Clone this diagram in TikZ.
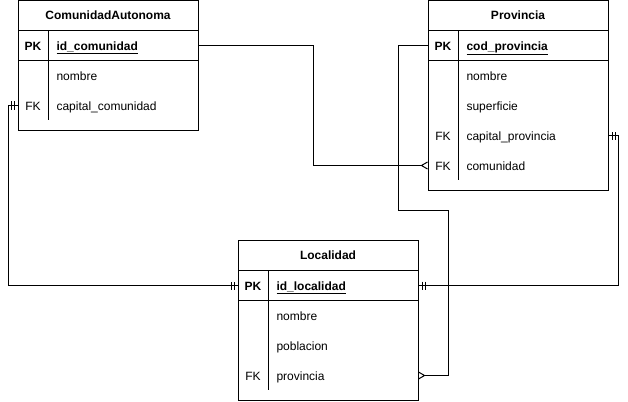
\documentclass[tikz,border=0pt]{standalone}
\usepackage{fontspec}
\setmainfont{Liberation Sans}
\usetikzlibrary{positioning,arrows.meta,decorations.markings}

\tikzset{
  caja/.style={draw, minimum width=180pt, inner sep=0pt, outer sep=0pt},
  titulo/.style={caja, minimum height=30pt, font=\bfseries},
  clave/.style={caja, minimum height=30pt},
  marca/.style={inner sep=0pt, anchor=base},
  campo/.style={inner sep=0pt, anchor=base west},
  muchos/.style={-{Straight Barb[reversed,length=6pt,width=7pt]}},
  unouno/.style={postaction={decorate, decoration={markings,
      mark=at position 4pt with {\draw (0,-4pt) -- (0,4pt);},
      mark=at position 7pt with {\draw (0,-4pt) -- (0,4pt);},
      mark=at position -4pt with {\draw (0,-4pt) -- (0,4pt);},
      mark=at position -7pt with {\draw (0,-4pt) -- (0,4pt);}}}}
}

\begin{document}
\fontsize{12}{14}\selectfont
\begin{tikzpicture}[x=1pt, y=-1pt, line width=1pt]
  \useasboundingbox (0,0) rectangle (628,401);

  % ComunidadAutonoma
  \node[titulo] (ca) at (108,15.5) {ComunidadAutonoma};
  \node[clave, below=0pt of ca] (ca-pk) {};
  \node[caja, minimum height=70pt, below=0pt of ca-pk] (ca-cuerpo) {};
  \draw (ca-pk.north west) ++(30,0) -- ++(0,89);
  \node[marca, font=\bfseries] (ca-pkl) at (33,50.5) {PK};
  \node[campo, font=\bfseries] (ca-id) at (56,50.5) {\underline{id\_comunidad}};
  \node[campo] (ca-nombre) at (56,80.5) {nombre};
  \node[marca] (ca-fk) at (33,110.5) {FK};
  \node[campo] (ca-capital) at (56,110.5) {capital\_comunidad};

  % Provincia
  \node[titulo] (pv) at (518,15.5) {Provincia};
  \node[clave, below=0pt of pv] (pv-pk) {};
  \node[caja, minimum height=130pt, below=0pt of pv-pk] (pv-cuerpo) {};
  \draw (pv-pk.north west) ++(30,0) -- ++(0,149);
  \node[marca, font=\bfseries] (pv-pkl) at (443,50.5) {PK};
  \node[campo, font=\bfseries] (pv-id) at (466,50.5) {\underline{cod\_provincia}};
  \node[campo] (pv-nombre) at (466,80.5) {nombre};
  \node[campo] (pv-superficie) at (466,110.5) {superficie};
  \node[marca] (pv-fk1) at (443,140.5) {FK};
  \node[campo] (pv-capital) at (466,140.5) {capital\_provincia};
  \node[marca] (pv-fk2) at (443,170.5) {FK};
  \node[campo] (pv-comunidad) at (466,170.5) {comunidad};

  % Localidad
  \node[titulo] (lo) at (328,255.5) {Localidad};
  \node[clave, below=0pt of lo] (lo-pk) {};
  \node[caja, minimum height=100pt, below=0pt of lo-pk] (lo-cuerpo) {};
  \draw (lo-pk.north west) ++(30,0) -- ++(0,119);
  \node[marca, font=\bfseries] (lo-pkl) at (253,290.5) {PK};
  \node[campo, font=\bfseries] (lo-id) at (276,290.5) {\underline{id\_localidad}};
  \node[campo] (lo-nombre) at (276,320.5) {nombre};
  \node[campo] (lo-poblacion) at (276,350.5) {poblacion};
  \node[marca] (lo-fk) at (253,380.5) {FK};
  \node[campo] (lo-provincia) at (276,380.5) {provincia};

  % relaciones
  \draw[muchos] (ca-pk.east) -- ++(115,0) |- (pv-cuerpo.west |- 0,165.5);
  \draw[muchos] (pv-pk.west) -- ++(-30,0) -- ++(0,165) -- ++(50,0) |- (lo-cuerpo.east |- 0,375.5);
  \draw[unouno] (ca-cuerpo.west |- 0,105.5) -- ++(-10,0) |- (lo-pk.west);
  \draw[unouno] (pv-cuerpo.east |- 0,135.5) -- ++(10,0) |- (lo-pk.east);
\end{tikzpicture}
\end{document}
